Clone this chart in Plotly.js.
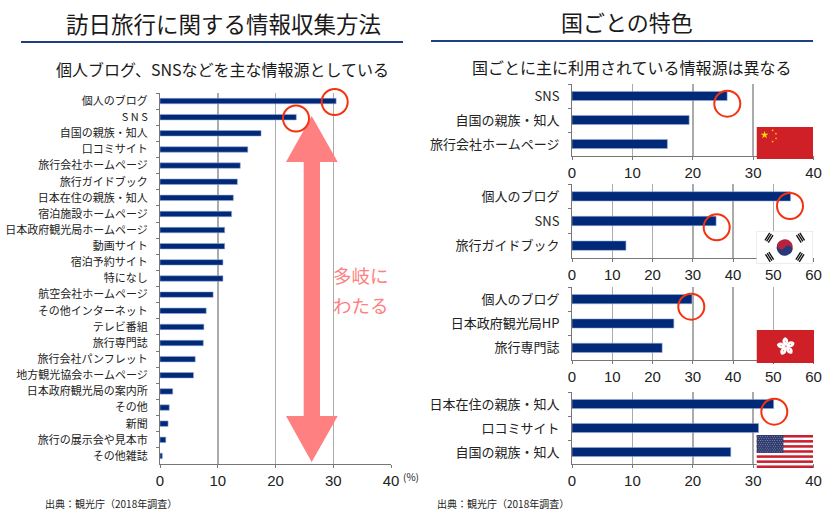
<!DOCTYPE html>
<html><head><meta charset="utf-8">
<script src="https://cdn.plot.ly/plotly-3.0.1.min.js"></script>
<style>html,body{margin:0;padding:0;background:#fff}#c{width:832px;height:517px}</style>
</head><body><div id="c"></div>
<script>
var W=832,H=517;
var mainCats=["個人のブログ","S N S","自国の親族・知人","口コミサイト","旅行会社ホームページ","旅行ガイドブック","日本在住の親族・知人","宿泊施設ホームページ","日本政府観光局ホームページ","動画サイト","宿泊予約サイト","特になし","航空会社ホームページ","その他インターネット","テレビ番組","旅行専門誌","旅行会社パンフレット","地方観光協会ホームページ","日本政府観光局の案内所","その他","新聞","旅行の展示会や見本市","その他雑誌"];
var mainVals=[30.5,23.6,17.5,15.2,13.9,13.4,12.7,12.4,11.2,11.2,10.9,10.9,9.2,8.0,7.6,7.5,6.1,5.8,2.2,1.6,1.4,1.0,0.4];
var chinaCats=["SNS","自国の親族・知人","旅行会社ホームページ"];
var chinaVals=[25.7,19.4,15.8];
var koreaCats=["個人のブログ","SNS","旅行ガイドブック"];
var koreaVals=[54.3,35.8,13.4];
var hkCats=["個人のブログ","日本政府観光局HP","旅行専門誌"];
var hkVals=[29.8,25.3,22.4];
var usaCats=["日本在住の親族・知人","口コミサイト","自国の親族・知人"];
var usaVals=[33.4,30.9,26.3];

var BAR="#002a78",GRID="#ababab",AXIS="#777",TXT="#222";
var JP='"Noto Sans CJK JP","Noto Sans",sans-serif';
var LAT='"Liberation Sans",Arial,sans-serif';
function X(p){return p/W} function Y(p){return 1-p/H}

var panels=[
 {c:mainCats,v:mainVals,max:40,x:[160,391],y:[93,464],lab:11,gap:0.66,st:12},
 {c:chinaCats,v:chinaVals,max:40,x:[572,813.5],y:[84,156],lab:13,gap:0.62,st:12},
 {c:koreaCats,v:koreaVals,max:60,x:[572,813.5],y:[184,258],lab:13,gap:0.62,st:12},
 {c:hkCats,v:hkVals,max:60,x:[572,813.5],y:[287,360],lab:13,gap:0.62,st:12},
 {c:usaCats,v:usaVals,max:40,x:[572,813.5],y:[392,464],lab:13,gap:0.62,st:12}
];
var data=[],layout={width:W,height:H,margin:{l:0,r:0,t:0,b:0},paper_bgcolor:"#fff",plot_bgcolor:"rgba(0,0,0,0)",showlegend:false,bargap:0};
panels.forEach(function(p,i){
  var s=i?String(i+1):"";
  data.push({type:"bar",orientation:"h",x:p.v,y:p.c,xaxis:"x"+s,yaxis:"y"+s,width:1-p.gap,
    marker:{color:BAR,line:{color:"rgba(150,170,215,0.7)",width:0.8}},hoverinfo:"x+y"});
  layout["xaxis"+s]={domain:[X(p.x[0]),X(p.x[1])],anchor:"y"+s,range:[0,p.max],dtick:10,tick0:0,
    showgrid:true,gridcolor:GRID,gridwidth:1.5,zeroline:false,showline:true,linecolor:AXIS,linewidth:1,
    ticks:"outside",ticklen:3,tickcolor:AXIS,tickfont:{family:LAT,size:15,color:TXT},fixedrange:true};
  layout["yaxis"+s]={domain:[Y(p.y[1]),Y(p.y[0])],anchor:"x"+s,type:"category",categoryorder:"array",categoryarray:p.c,
    autorange:"reversed",tickson:"boundaries",showgrid:false,zeroline:false,showline:true,linecolor:AXIS,linewidth:1,
    ticks:"outside",ticklen:3,tickcolor:AXIS,ticklabelstandoff:p.st-3,tickfont:{family:JP,size:p.lab,color:TXT},fixedrange:true};
});

function note(t,x,y,size,color,anchor,fam){return {text:t,xref:"paper",yref:"paper",x:X(x),y:Y(y),xanchor:anchor||"center",yanchor:"middle",showarrow:false,font:{family:fam||JP,size:size,color:color||TXT}}}
layout.annotations=[
 note("訪日旅行に関する情報収集方法",223,23,22.5,"#1a1a1a"),
 note("国ごとの特色",627,21,22,"#1a1a1a"),
 note("個人ブログ、SNSなどを主な情報源としている",222,69,16,"#1a1a1a"),
 note("国ごとに主に利用されている情報源は異なる",632,67,16,"#1a1a1a"),
 note("多岐に",361,275,18.5,"#ff8080"),
 note("わたる",361,305,18.5,"#ff8080"),
 note("(%)",411,476,10,TXT),
 note("出典：観光庁（2018年調査）",43,503,10,TXT,"left"),
 note("出典：観光庁（2018年調査）",435,503,10,TXT,"left")
];

function circ(cx,cy,r){return {type:"circle",xref:"paper",yref:"paper",x0:X(cx-r),x1:X(cx+r),y0:Y(cy+r),y1:Y(cy-r),line:{color:"#f5320f",width:2},fillcolor:"rgba(0,0,0,0)"}}
function rule(a,b,y){return {type:"line",xref:"paper",yref:"paper",x0:X(a),x1:X(b),y0:Y(y),y1:Y(y),line:{color:"#1f3f85",width:2}}}
var arrowPts=[[311.7,116],[337.7,162],[320,162],[320,416],[337.7,416],[311.7,462],[286,416],[303.7,416],[303.7,162],[286,162]];
var arrowPath="M"+arrowPts.map(function(p){return X(p[0])+","+Y(p[1])}).join("L")+"Z";
layout.shapes=[
 rule(21,403,42),rule(431,813,41),
 {type:"path",xref:"paper",yref:"paper",path:arrowPath,fillcolor:"#ff8080",line:{width:0}},
 circ(334.7,102,13),circ(296,118.5,13),circ(727.3,103.7,13),circ(790,206,13),circ(716.7,227.3,13),circ(691.3,306.7,13),circ(774.3,411.7,13)
];

function star(cx,cy,r,rot){var s="";for(var i=0;i<10;i++){var a=(rot||0)-Math.PI/2+i*Math.PI/5,q=i%2?r*0.382:r;s+=(i?"L":"M")+(cx+q*Math.cos(a)).toFixed(2)+" "+(cy+q*Math.sin(a)).toFixed(2)}return '<path d="'+s+'Z" fill="#ffde00"/>'}
var chinaSvg='<svg xmlns="http://www.w3.org/2000/svg" width="168" height="96" viewBox="0 0 168 96"><rect width="168" height="96" fill="#cf2027"/>'+star(24,24,12)+star(48,10,4,0.6)+star(58,20,4,1)+star(58,34,4,0)+star(48,44,4,0.6)+'</svg>';
function tri(x,y,rot){var r='<g transform="translate('+x+' '+y+') rotate('+rot+')" fill="#111">';[-9,-3,3].forEach(function(d){r+='<rect x="-13" y="'+d+'" width="26" height="4"/>'});return r+'</g>'}
var koreaSvg='<svg xmlns="http://www.w3.org/2000/svg" width="168" height="96" viewBox="0 0 168 96"><rect width="168" height="96" fill="#fff" stroke="#ddd" stroke-width="3"/>'+
 '<g transform="translate(84 48) rotate(33)"><path d="M-24 0A24 24 0 0 1 24 0Z" fill="#b7223f"/><path d="M-24 0A24 24 0 0 0 24 0Z" fill="#263a7a"/><circle cx="-12" r="12" fill="#b7223f"/><circle cx="12" r="12" fill="#263a7a"/></g>'+
 tri(38,20,-57)+tri(130,20,57)+tri(38,76,57)+tri(130,76,-57)+'</svg>';
var pet='';for(var k=0;k<5;k++){pet+='<g transform="rotate('+(k*72)+')"><path d="M0 -1C-12 -8 -14 -20 -3 -27C8 -24 10 -12 0 -1Z" fill="#fff"/><circle cx="-2" cy="-14" r="1.4" fill="#cf2027"/></g>'}
var hkSvg='<svg xmlns="http://www.w3.org/2000/svg" width="168" height="96" viewBox="0 0 168 96"><rect width="168" height="96" fill="#cf2027"/><g transform="translate(86 48)">'+pet+'</g></svg>';
var st='';for(var j=0;j<7;j++){st+='<rect y="'+(j*2*96/13)+'" width="168" height="'+(96/13)+'" fill="#c8202f"/>'}
var dots='';for(var a=0;a<9;a++){for(var b=0;b<11;b++){dots+='<circle cx="'+(5+b*7+(a%2?3:0))+'" cy="'+(5+a*5.5)+'" r="1.2" fill="#dde"/>'}}
var usaSvg='<svg xmlns="http://www.w3.org/2000/svg" width="168" height="96" viewBox="0 0 168 96"><rect width="168" height="96" fill="#fff"/>'+st+'<rect width="80" height="52" fill="#2f3b6e"/>'+dots+'</svg>';
function img(svg,x0,x1,y0,y1){return {source:"data:image/svg+xml;charset=utf-8,"+encodeURIComponent(svg),xref:"paper",yref:"paper",x:X(x0),y:Y(y0),sizex:X(x1-x0),sizey:(y1-y0)/H,sizing:"stretch",xanchor:"left",yanchor:"top",layer:"above"}}
layout.images=[img(chinaSvg,756.5,813,127,159),img(koreaSvg,756.5,813,231,264),img(hkSvg,756.5,814,330,363),img(usaSvg,756.5,813,435,468)];

Plotly.newPlot("c",data,layout,{displayModeBar:false,staticPlot:true});
</script></body></html>
